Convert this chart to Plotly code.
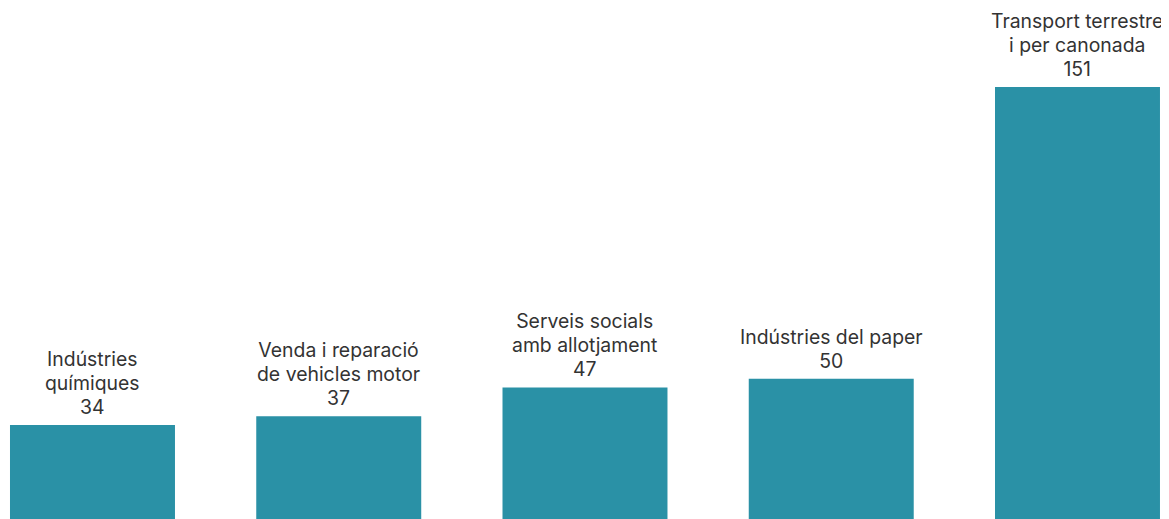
import plotly.graph_objects as go

categories = ["Indústries<br>químiques", "Venda i reparació<br>de vehicles motor",
              "Serveis socials<br>amb allotjament", "Indústries del paper",
              "Transport terrestre<br>i per canonada"]
values = [34, 37, 47, 50, 151]


def wrap(s):
    return "<br>".join(f"<span style='font-size:19.4px'>{part}</span>" for part in s.split("<br>"))


labels = [wrap(f"{c}<br>{v}") for c, v in zip(categories, values)]
xs = list(range(len(values)))

fig = go.Figure(go.Bar(
    x=xs,
    y=values,
    width=0.67,
    marker=dict(color="#2a91a6", line=dict(width=0)),
    hoverinfo="skip",
))

for x, v, lab in zip(xs, values, labels):
    fig.add_annotation(
        x=x, y=v, text=lab, showarrow=False,
        xanchor="center", yanchor="bottom", yshift=4,
        font=dict(family="Inter, Liberation Sans, Arial, sans-serif", size=18.5, color="#333333"),
    )

fig.update_layout(
    width=1169, height=519,
    margin=dict(l=0, r=0, t=0, b=0),
    paper_bgcolor="white", plot_bgcolor="white",
    showlegend=False,
    xaxis=dict(range=[-0.3431, 4.4041], visible=False, fixedrange=True),
    yaxis=dict(range=[-1.32, 178.33], visible=False, fixedrange=True),
)

fig.write_html("out.html")
